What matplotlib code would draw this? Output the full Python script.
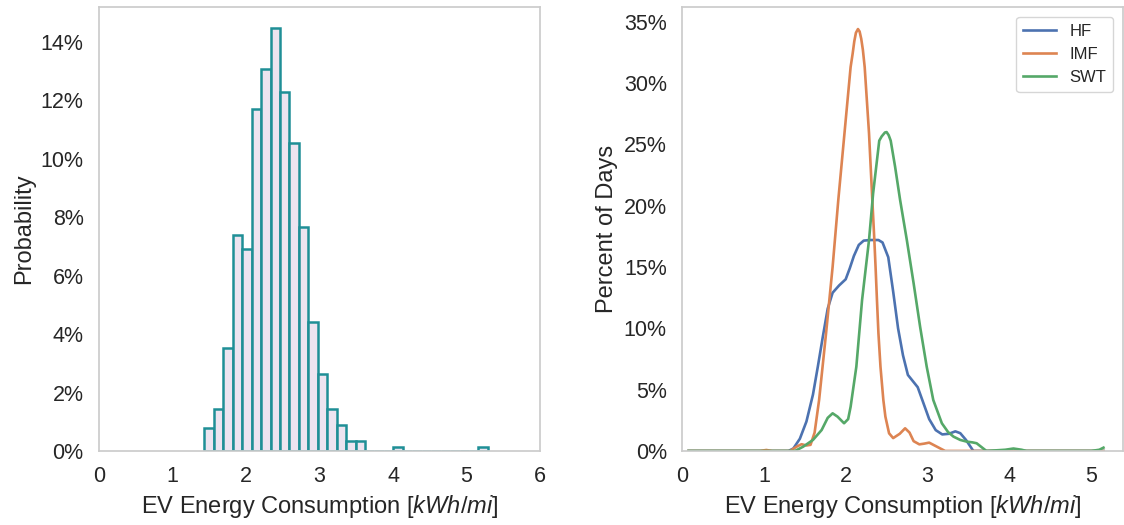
import numpy as np
import matplotlib
matplotlib.use("Agg")
import matplotlib.pyplot as plt
from matplotlib.ticker import PercentFormatter

# --- histogram of daily EV consumption (percent of days per bin) ---
hist_lo, hist_hi, n_bins = 1.433, 5.29, 30
hist_pct = [0.78, 1.42, 3.53, 7.40, 6.92, 11.70, 13.07, 14.47, 12.30, 10.54,
            7.66, 4.41, 2.63, 1.42, 0.89, 0.35, 0.35, 0, 0, 0,
            0.12, 0, 0, 0, 0, 0, 0, 0, 0, 0.12]

# --- smoothed distributions by method ---
hf_x = [0.08, 1.30, 1.36, 1.44, 1.52, 1.60, 1.66, 1.72, 1.78, 1.84, 1.92, 2.00,
        2.05, 2.10, 2.16, 2.22, 2.30, 2.40, 2.45, 2.52, 2.58, 2.64, 2.70, 2.76,
        2.82, 2.88, 2.95, 3.02, 3.10, 3.18, 3.26, 3.34, 3.40, 3.47, 3.56, 5.15]
hf_y = [0, 0, 0.2, 1.0, 2.4, 4.6, 6.9, 9.3, 11.6, 12.9, 13.5, 14.0,
        14.9, 15.9, 16.8, 17.15, 17.2, 17.2, 17.0, 15.8, 13.0, 10.0, 7.8, 6.2,
        5.7, 5.2, 3.9, 2.6, 1.7, 1.35, 1.4, 1.6, 1.45, 0.9, 0, 0]

imf_x = [0.08, 0.95, 1.03, 1.10, 1.32, 1.40, 1.46, 1.52, 1.57, 1.62, 1.675,
         1.76, 1.84, 1.91, 1.985, 2.06, 2.085, 2.105, 2.125, 2.15, 2.17, 2.19,
         2.21, 2.232, 2.285, 2.325, 2.35, 2.365, 2.382, 2.40, 2.425, 2.46,
         2.485, 2.53, 2.58, 2.66, 2.726, 2.78, 2.83, 2.90, 2.96, 3.02, 3.10,
         3.215, 5.15]
imf_y = [0, 0, 0.08, 0, 0, 0.35, 0.55, 0.45, 0.5, 1.5, 4.16,
         9.6, 15.0, 20.5, 25.9, 31.3, 32.4, 33.4, 34.1, 34.4, 34.2, 33.6,
         32.7, 31.3, 25.9, 20.5, 17.2, 15.0, 12.3, 9.6, 6.87, 4.16,
         2.8, 1.44, 1.05, 1.4, 1.85, 1.5, 0.8, 0.54, 0.6, 0.68, 0.4,
         0, 0]

swt_x = [0.08, 1.38, 1.48, 1.60, 1.706, 1.78, 1.84, 1.90, 1.98, 2.03, 2.06,
         2.13, 2.20, 2.285, 2.335, 2.41, 2.44, 2.48, 2.50, 2.525, 2.55, 2.603,
         2.665, 2.747, 2.83, 2.91, 2.99, 3.07, 3.175, 3.25, 3.317, 3.40, 3.48,
         3.55, 3.60, 3.72, 3.95, 4.05, 4.15, 4.21, 5.00, 5.10, 5.15]
swt_y = [0, 0, 0.35, 0.9, 1.71, 2.7, 3.07, 2.8, 2.26, 2.6, 3.6,
         6.87, 12.3, 17.2, 21.0, 25.3, 25.65, 25.97, 26.0, 25.75, 25.3, 23.2,
         20.46, 17.2, 13.67, 10.1, 6.87, 4.16, 2.26, 1.55, 1.17, 0.9, 0.76,
         0.7, 0.63, 0, 0.1, 0.2, 0.1, 0, 0, 0.1, 0.27]

series = [("HF", hf_x, hf_y, "#4c72b0"),
          ("IMF", imf_x, imf_y, "#dd8452"),
          ("SWT", swt_x, swt_y, "#55a868")]

plt.rcParams.update({
    "font.family": ["Liberation Sans", "DejaVu Sans"],
    "mathtext.fontset": "custom",
    "mathtext.rm": "Liberation Sans",
    "mathtext.it": "Liberation Sans:italic",
    "text.color": "#262626",
    "axes.labelcolor": "#262626",
    "xtick.color": "#262626",
    "ytick.color": "#262626",
    "axes.edgecolor": "#cccccc",
    "axes.linewidth": 1.25,
})

fig = plt.figure(figsize=(11.24, 5.25), dpi=100)
ax1 = fig.add_axes([0.0881, 0.141, 0.3924, 0.8457])
ax2 = fig.add_axes([0.6068, 0.141, 0.3924, 0.8457])

# left: histogram
edges = np.linspace(hist_lo, hist_hi, n_bins + 1)
ax1.bar(edges[:-1], hist_pct, width=np.diff(edges), align="edge",
        color="#ede4f0", edgecolor="#1f8f96", linewidth=1.8)
ax1.set_xlim(0, 6)
ax1.set_ylim(0, 15.2)
ax1.set_yticks(np.arange(0, 15, 2))
ax1.yaxis.set_major_formatter(PercentFormatter(100, decimals=0))
ax1.set_ylabel("Probability", fontsize=17)

# right: distribution curves
for name, xs, ys, col in series:
    ax2.plot(xs, ys, color=col, linewidth=1.9, label=name,
             solid_joinstyle="round")
ax2.set_xlim(0, 5.39)
ax2.set_ylim(0, 36.2)
ax2.set_yticks(np.arange(0, 36, 5))
ax2.set_xticks(range(0, 6))
ax2.yaxis.set_major_formatter(PercentFormatter(100, decimals=0))
ax2.set_ylabel("Percent of Days", fontsize=17)
leg = ax2.legend(loc="upper right", fontsize=12, frameon=True,
                 borderaxespad=0.6)
leg.get_frame().set_edgecolor("#cccccc")

for ax in (ax1, ax2):
    ax.set_xlabel("EV Energy Consumption [$kWh/mi$]", fontsize=17)
    ax.tick_params(length=0, pad=11, labelsize=15.5)
    for sp in ax.spines.values():
        sp.set_color("#cccccc")

fig.savefig("out.png", dpi=100)
